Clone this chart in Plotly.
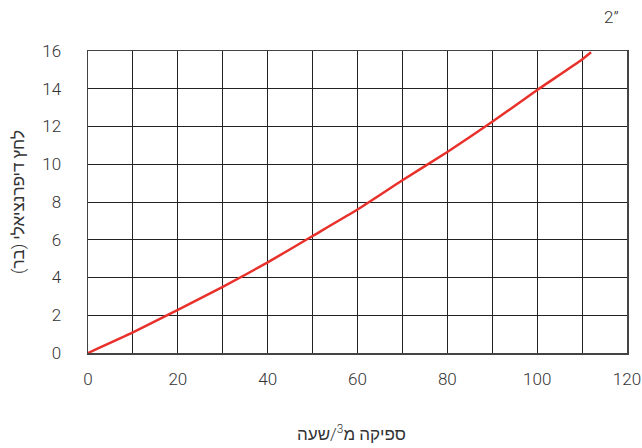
import plotly.graph_objects as go

flow = [0, 10, 20, 30, 40, 50, 60, 70, 80, 90, 100, 110, 112]
pressure = [0, 1.09, 2.29, 3.5, 4.8, 6.2, 7.6, 9.15, 10.65, 12.25, 13.93, 15.55, 15.93]

x_ticks = [0, 20, 40, 60, 80, 100, 120]
y_ticks = [0, 2, 4, 6, 8, 10, 12, 14, 16]

x_title = "ספיקה מ<sup>3</sup>/שעה"
y_title = "לחץ דיפרנציאלי (בר)"
corner_label = "2”"

font_family = "Roboto, Liberation Sans, Arial, sans-serif"
text_color = "#333333"

fig = go.Figure()
fig.add_trace(go.Scatter(
    x=flow, y=pressure, mode="lines",
    line=dict(color="#e8312a", width=2.5, shape="spline", smoothing=0.4),
    showlegend=False, hoverinfo="skip",
))

fig.update_layout(
    width=642, height=448,
    margin=dict(l=88, r=15, t=51, b=95),
    paper_bgcolor="white", plot_bgcolor="white",
    font=dict(family=font_family, size=17, color=text_color, weight=300),
    annotations=[
        dict(text=corner_label, xref="paper", yref="paper",
             x=1.0, y=1.0, xanchor="right", yanchor="bottom", yshift=22, xshift=-6,
             showarrow=False, font=dict(size=17, color=text_color, weight=300)),
        dict(text=y_title, xref="paper", yref="paper", textangle=-90,
             x=0, y=0.5, xanchor="center", yanchor="middle", xshift=-70,
             showarrow=False, font=dict(size=17, color=text_color, weight=300)),
        dict(text=x_title, xref="paper", yref="paper",
             x=0.5, y=0, xanchor="center", yanchor="middle", yshift=-80, xshift=-6,
             showarrow=False, font=dict(size=17, color=text_color, weight=300)),
    ],
)

fig.update_xaxes(
    range=[0, 120], tickvals=x_ticks,
    showgrid=True, gridcolor="#222222", gridwidth=1,
    minor=dict(dtick=10, tick0=0, showgrid=True, gridcolor="#222222", gridwidth=1, ticks=""),
    showline=True, linecolor="#444444", linewidth=1.5, mirror=True,
    zeroline=False, ticks="", ticklabelstandoff=10, automargin=False,
)
fig.update_yaxes(
    range=[0, 16], tickvals=y_ticks,
    showgrid=True, gridcolor="#222222", gridwidth=1,
    showline=True, linecolor="#444444", linewidth=1.5, mirror=True,
    zeroline=False, ticks="", ticklabelstandoff=22, automargin=False,
)

fig.write_html(
    "out.html",
    config={"displayModeBar": False, "staticPlot": True},
    post_script="document.body.style.margin='0';document.body.style.overflow='hidden';",
)
